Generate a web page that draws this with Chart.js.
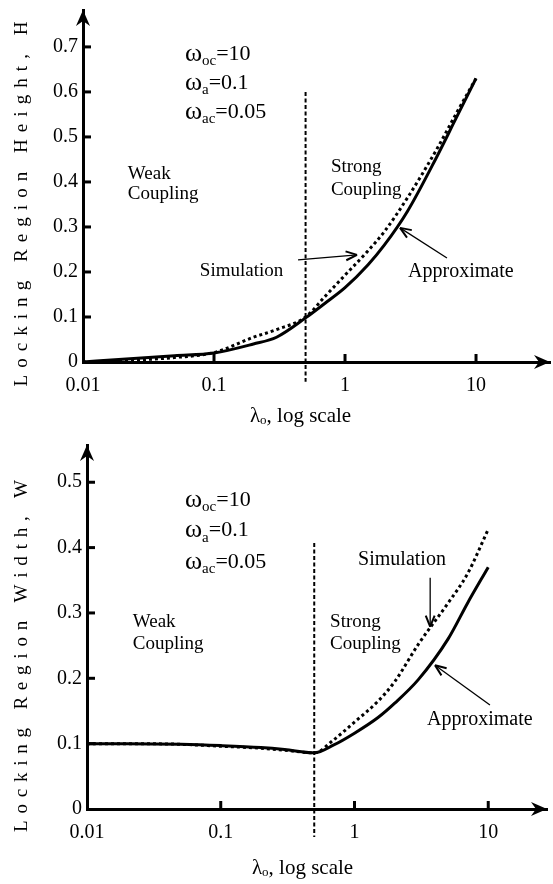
<!DOCTYPE html>
<html>
<head>
<meta charset="utf-8">
<script src="https://cdn.jsdelivr.net/npm/chart.js@4"></script>
<style>
  html, body { margin: 0; padding: 0; background: #fff; }
  canvas { position: absolute; left: 0; }
</style>
</head>
<body>
<canvas id="heightChart" width="553" height="442" style="top:0"></canvas>
<canvas id="widthChart" width="553" height="442" style="top:442px"></canvas>
<script>
// lambda_o values (log scale) shared by both plots
const lambdas = [0.01, 0.02, 0.05, 0.1, 0.2, 0.3, 0.5, 0.7, 1, 1.5, 2, 3, 5, 7, 10];

// locking region height H
const heightSim    = [0, 0.003, 0.010, 0.021, 0.055, 0.072, 0.100, 0.145, 0.193, 0.247, 0.290, 0.365, 0.472, 0.550, 0.630];
const heightApprox = [0, 0.006, 0.014, 0.020, 0.040, 0.055, 0.098, 0.130, 0.165, 0.216, 0.260, 0.335, 0.455, 0.540, 0.630];

// locking region width W
const widthSim    = [0.100, 0.100, 0.099, 0.096, 0.093, 0.090, 0.086, 0.106, 0.133, 0.165, 0.195, 0.252, 0.315, 0.360, 0.428];
const widthApprox = [0.100, 0.100, 0.099, 0.097, 0.094, 0.091, 0.086, 0.098, 0.116, 0.140, 0.162, 0.198, 0.260, 0.315, 0.370];

// weak / strong coupling boundary
const boundary = 0.5;

const xTickValues = [0.01, 0.1, 1, 10];
const xTickLabels = ["0.01", "0.1", "1", "10"];
const heightTicks = [0, 0.1, 0.2, 0.3, 0.4, 0.5, 0.6, 0.7];
const widthTicks  = [0, 0.1, 0.2, 0.3, 0.4, 0.5];

const FONT = '"Liberation Serif", "Times New Roman", serif';

function pts(ys) {
  return lambdas.map((l, i) => ({ x: l, y: ys[i] }));
}

function line(ctx, x1, y1, x2, y2) {
  ctx.beginPath(); ctx.moveTo(x1, y1); ctx.lineTo(x2, y2); ctx.stroke();
}

function pointer(ctx, x1, y1, x2, y2) {
  ctx.lineWidth = 1.3;
  line(ctx, x1, y1, x2, y2);
  const a = Math.atan2(y2 - y1, x2 - x1);
  ctx.lineWidth = 2;
  [0.38, -0.38].forEach(d => {
    line(ctx, x2, y2, x2 - 12 * Math.cos(a + d), y2 - 12 * Math.sin(a + d));
  });
}

function rich(ctx, parts, x, y) {
  ctx.textAlign = 'left';
  ctx.textBaseline = 'middle';
  let px = x;
  parts.forEach(([t, size, dy]) => {
    ctx.font = size + 'px ' + FONT;
    ctx.fillText(t, px, y + dy);
    px += ctx.measureText(t).width;
  });
}

function spacedVertical(ctx, text, cx, cy, size, span) {
  ctx.save();
  ctx.font = size + 'px ' + FONT;
  const chars = [...text];
  const w = chars.map(c => ctx.measureText(c).width);
  const gap = (span - w.reduce((a, b) => a + b, 0)) / (chars.length - 1);
  ctx.translate(cx, cy);
  ctx.rotate(-Math.PI / 2);
  ctx.textAlign = 'left';
  ctx.textBaseline = 'middle';
  let p = -span / 2;
  chars.forEach((c, i) => { ctx.fillText(c, p, 0); p += w[i] + gap; });
  ctx.restore();
}

const decor = {
  id: 'decor',
  afterDraw(chart, args, o) {
    const { ctx, chartArea: a, scales: { x, y } } = chart;
    ctx.save();
    ctx.strokeStyle = '#000';
    ctx.fillStyle = '#000';

    // inward tick marks
    ctx.lineWidth = 3;
    o.yTicks.slice(1).forEach(v => {
      const py = y.getPixelForValue(v);
      line(ctx, a.left, py, a.left + 8, py);
    });
    xTickValues.slice(1).forEach(v => {
      const px = x.getPixelForValue(v);
      line(ctx, px, a.bottom, px, a.bottom - 8);
    });

    // axis arrow heads
    ctx.beginPath();
    ctx.moveTo(a.right, a.bottom);
    ctx.lineTo(a.right - 16, a.bottom - 7);
    ctx.lineTo(a.right - 11, a.bottom);
    ctx.lineTo(a.right - 16, a.bottom + 7);
    ctx.closePath(); ctx.fill();
    ctx.beginPath();
    ctx.moveTo(a.left, a.top);
    ctx.lineTo(a.left - 7, a.top + 16);
    ctx.lineTo(a.left, a.top + 11);
    ctx.lineTo(a.left + 7, a.top + 16);
    ctx.closePath(); ctx.fill();

    // text labels
    o.texts.forEach(t => {
      rich(ctx, t.parts, x.getPixelForValue(t.x), y.getPixelForValue(t.y));
    });

    // pointer arrows
    o.arrows.forEach(r => {
      pointer(ctx, x.getPixelForValue(r[0]), y.getPixelForValue(r[1]),
                   x.getPixelForValue(r[2]), y.getPixelForValue(r[3]));
    });

    // axis titles
    rich(ctx, [['λ', 21, 0], ['o', 13, 5], [', log scale', 21, 0]],
         x.getPixelForValue(o.xTitle[0]), a.bottom + o.xTitle[1]);
    spacedVertical(ctx, o.yTitle, o.yTitlePos[0], o.yTitlePos[1], 19, o.yTitlePos[2]);
    ctx.restore();
  }
};

function omega(sub, val) {
  return [['ω', 26, 0], [sub, 15, 7], [val, 22, 0]];
}

function makeChart(id, sim, approx, cfg) {
  return new Chart(document.getElementById(id), {
    type: 'line',
    data: {
      datasets: [
        {
          label: 'Simulation',
          data: pts(sim),
          borderColor: '#000',
          borderWidth: 3,
          borderDash: [3, 3],
          pointRadius: 0,
          cubicInterpolationMode: 'monotone'
        },
        {
          label: 'Approximate',
          data: pts(approx),
          borderColor: '#000',
          borderWidth: 3,
          pointRadius: 0,
          cubicInterpolationMode: 'monotone'
        },
        {
          label: 'Boundary',
          data: [{ x: boundary, y: cfg.boundaryTop }, { x: boundary, y: cfg.boundaryBottom }],
          borderColor: '#000',
          borderWidth: 2,
          borderDash: [4, 2.5],
          pointRadius: 0,
          clip: false
        }
      ]
    },
    options: {
      responsive: false,
      animation: false,
      layout: { padding: cfg.padding },
      plugins: {
        legend: { display: false },
        tooltip: { enabled: false },
        decor: cfg.decor
      },
      scales: {
        x: {
          type: 'logarithmic',
          min: 0.01,
          max: cfg.xMax,
          grid: { display: false, drawTicks: false },
          border: { display: true, color: '#000', width: 3 },
          afterBuildTicks: s => { s.ticks = xTickValues.map(v => ({ value: v })); },
          afterFit: s => { s.height = cfg.xHeight; s.paddingLeft = 0; s.paddingRight = 0; },
          ticks: {
            autoSkip: false,
            maxRotation: 0,
            padding: 12,
            color: '#000',
            font: { family: FONT, size: 20 },
            callback: (v, i) => xTickLabels[i]
          }
        },
        y: {
          min: 0,
          max: cfg.yMax,
          grid: { display: false, drawTicks: false },
          border: { display: true, color: '#000', width: 3 },
          afterBuildTicks: s => { s.ticks = cfg.yTicks.map(v => ({ value: v })); },
          afterFit: s => { s.width = cfg.yWidth; s.paddingTop = 0; s.paddingBottom = 0; },
          ticks: {
            padding: 5,
            color: '#000',
            font: { family: FONT, size: 20 },
            callback: v => (v === 0 ? '0' : v.toFixed(1))
          }
        }
      }
    },
    plugins: [decor]
  });
}

makeChart('heightChart', heightSim, heightApprox, {
  padding: { top: 10, right: 3, left: 0, bottom: 0 },
  xMax: 36.7, yMax: 0.782, xHeight: 80, yWidth: 83,
  yTicks: heightTicks,
  boundaryTop: 0.6, boundaryBottom: -0.044,
  decor: {
    yTicks: heightTicks,
    yTitle: 'Locking Region Height, H',
    yTitlePos: [22, 204, 365],
    xTitle: [0.188, 54],
    texts: [
      { x: 0.060, y: 0.684, parts: omega('oc', '=10') },
      { x: 0.060, y: 0.620, parts: omega('a', '=0.1') },
      { x: 0.060, y: 0.556, parts: omega('ac', '=0.05') },
      { x: 0.022, y: 0.418, parts: [['Weak', 19, 0]] },
      { x: 0.022, y: 0.373, parts: [['Coupling', 19, 0]] },
      { x: 0.78, y: 0.433, parts: [['Strong', 19, 0]] },
      { x: 0.78, y: 0.382, parts: [['Coupling', 19, 0]] },
      { x: 0.078, y: 0.202, parts: [['Simulation', 19, 0]] },
      { x: 3.03, y: 0.200, parts: [['Approximate', 20, 0]] }
    ],
    arrows: [
      [0.438, 0.227, 1.235, 0.238],
      [6.0, 0.231, 2.63, 0.298]
    ]
  }
});

makeChart('widthChart', widthSim, widthApprox, {
  padding: { top: 3, right: 6, left: 0, bottom: 0 },
  xMax: 27.5, yMax: 0.557, xHeight: 75, yWidth: 87,
  yTicks: widthTicks,
  boundaryTop: 0.407, boundaryBottom: -0.043,
  decor: {
    yTicks: widthTicks,
    yTitle: 'Locking Region Width, W',
    yTitlePos: [22, 214, 352],
    xTitle: [0.171, 59],
    texts: [
      { x: 0.054, y: 0.473, parts: omega('oc', '=10') },
      { x: 0.054, y: 0.426, parts: omega('a', '=0.1') },
      { x: 0.054, y: 0.378, parts: omega('ac', '=0.05') },
      { x: 0.022, y: 0.286, parts: [['Weak', 19, 0]] },
      { x: 0.022, y: 0.253, parts: [['Coupling', 19, 0]] },
      { x: 0.657, y: 0.286, parts: [['Strong', 19, 0]] },
      { x: 0.657, y: 0.253, parts: [['Coupling', 19, 0]] },
      { x: 1.064, y: 0.381, parts: [['Simulation', 20, 0]] },
      { x: 3.49, y: 0.136, parts: [['Approximate', 20, 0]] }
    ],
    arrows: [
      [3.68, 0.354, 3.68, 0.279],
      [10.3, 0.159, 4.0, 0.220]
    ]
  }
});
</script>
</body>
</html>
